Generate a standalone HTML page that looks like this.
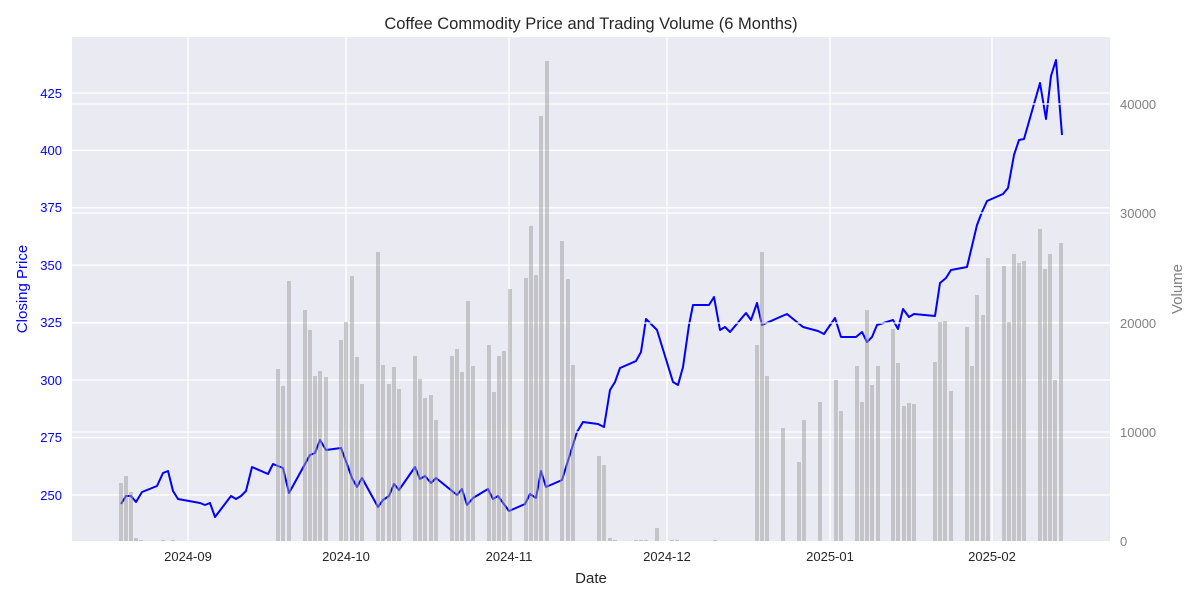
<!DOCTYPE html>
<html><head><meta charset="utf-8"><style>body{margin:0;background:#fff}svg{display:block}text{font-family:"Liberation Sans",sans-serif}</style></head><body>
<svg width="1200" height="600" xmlns="http://www.w3.org/2000/svg">
<rect x="72" y="37" width="1038" height="504" fill="#eaeaf2"/>
<g stroke="#fff" stroke-width="1.3">
<line x1="188" y1="37" x2="188" y2="541"/><line x1="346" y1="37" x2="346" y2="541"/><line x1="509" y1="37" x2="509" y2="541"/><line x1="667" y1="37" x2="667" y2="541"/><line x1="830" y1="37" x2="830" y2="541"/><line x1="992" y1="37" x2="992" y2="541"/>
<line x1="72" y1="495" x2="1110" y2="495"/><line x1="72" y1="437.5" x2="1110" y2="437.5"/><line x1="72" y1="380" x2="1110" y2="380"/><line x1="72" y1="322.6" x2="1110" y2="322.6"/><line x1="72" y1="265.2" x2="1110" y2="265.2"/><line x1="72" y1="207.8" x2="1110" y2="207.8"/><line x1="72" y1="150.4" x2="1110" y2="150.4"/><line x1="72" y1="93" x2="1110" y2="93"/>
</g>
<polyline fill="none" stroke="#0000ff" stroke-width="2" stroke-linejoin="round" points="121,504 126,496 131,496 136,502 142,492 157,486 163,473 168,471 173,491 178,499 200,503 205,505 210,503 215,517 231,496 236,499 241,496 246,491 252,467 268,474 273,464 283,468 289,493 310,455 315,453 320,440 326,450 341,448 347,464 352,478 357,487 362,478 378,507 383,500 389,496 394,484 399,490 415,467 420,479 425,476 431,483 436,478 457,495 462,489 467,505 473,498 488,489 493,499 498,496 509,511 525,504 530,494 536,498 541,471 546,487 562,480 577,432 583,422 598,424 604,427 610,390 615,382 620,368 636,361 641,352 646,319 657,330 673,382 678,385 683,367 689,325 693,305 709,305 714,297 720,330 725,327 730,332 746,313 751,320 757,303 762,325 780,317 787,314 803,327 818,331 824,334 835,318 841,337 856,337 862,332 867,342 872,337 877,325 893,320 898,329 903,309 909,317 914,314 935,316 940,283 946,278 951,270 967,267 977,225 982,212 987,201 1003,194 1008,188 1014,155 1019,140 1024,139 1040,83 1046,119 1051,76 1056,60 1062,135"/>
<g stroke="#fff" stroke-width="1.3">
<line x1="72" y1="432" x2="1110" y2="432"/><line x1="72" y1="323" x2="1110" y2="323"/><line x1="72" y1="213" x2="1110" y2="213"/><line x1="72" y1="104" x2="1110" y2="104"/>
</g>
<g fill="#a0a0a0" opacity="0.5" id="bars"></g>
<g font-size="13" fill="#0000ff" text-anchor="end">
<text x="62" y="500">250</text><text x="62" y="442">275</text><text x="62" y="385">300</text><text x="62" y="327">325</text><text x="62" y="270">350</text><text x="62" y="212">375</text><text x="62" y="155">400</text><text x="62" y="98">425</text>
</g>
<g font-size="13" fill="#808080">
<text x="1120" y="546">0</text><text x="1120" y="437">10000</text><text x="1120" y="328">20000</text><text x="1120" y="218">30000</text><text x="1120" y="109">40000</text>
</g>
<g font-size="13" fill="#262626" text-anchor="middle">
<text x="188" y="561">2024-09</text><text x="346" y="561">2024-10</text><text x="509" y="561">2024-11</text><text x="667" y="561">2024-12</text><text x="830" y="561">2025-01</text><text x="992" y="561">2025-02</text>
</g>
<text x="591" y="583" font-size="15" fill="#262626" text-anchor="middle">Date</text>
<text x="591" y="29" font-size="16.5" fill="#262626" text-anchor="middle">Coffee Commodity Price and Trading Volume (6 Months)</text>
<text transform="translate(27,289) rotate(-90)" font-size="15" fill="#0000ff" text-anchor="middle">Closing Price</text>
<text transform="translate(1182,289) rotate(-90)" font-size="15" fill="#808080" text-anchor="middle">Volume</text>
</svg>
<script>
var b=[[121,483],[126,476],[131,492],[136,538],[141,540],[163,540],[173,540],[278,369],[283,386],[289,281],[305,310],[310,330],[315,376],[320,371],[326,377],[341,340],[346,322],[352,276],[357,357],[362,384],[378,252],[383,365],[389,384],[394,367],[399,389],[415,356],[420,379],[425,398],[431,395],[436,420],[452,356],[457,349],[462,372],[468,301],[473,366],[489,345],[494,392],[499,356],[504,351],[510,289],[526,278],[531,226],[536,275],[541,116],[547,61],[562,241],[568,279],[573,365],[599,456],[604,465],[610,538],[615,540],[636,540],[641,540],[646,540],[657,528],[672,540],[677,540],[715,540],[757,345],[762,252],[767,376],[783,428],[799,462],[804,420],[820,402],[836,380],[841,411],[857,366],[862,402],[867,310],[872,385],[878,366],[893,329],[898,363],[904,406],[909,403],[914,404],[935,362],[940,322],[945,321],[951,391],[967,327],[972,366],[977,295],[983,315],[988,258],[1004,266],[1009,322],[1014,254],[1019,263],[1024,261],[1040,229],[1045,269],[1050,254],[1055,380],[1061,243]];
var g=document.getElementById('bars'),s='';
b.forEach(function(p){s+='<rect x="'+(p[0]-2)+'" y="'+p[1]+'" width="4" height="'+(541-p[1])+'"/>';});
g.innerHTML=s;
</script>
</body></html>
